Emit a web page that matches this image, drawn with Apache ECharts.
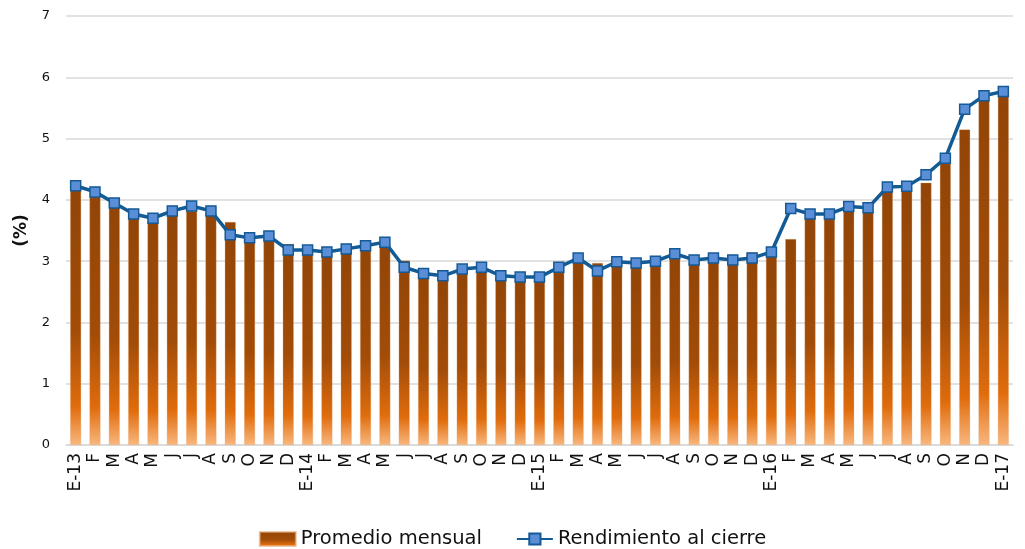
<!DOCTYPE html>
<html>
<head>
<meta charset="utf-8">
<script src="https://cdn.jsdelivr.net/npm/echarts@6/dist/echarts.min.js"></script>
<style>
html,body{margin:0;padding:0;background:#fff;}
#chart{width:1025px;height:549px;}
</style>
</head>
<body>
<div id="chart"></div>
<script>
const categories = ["E-13","F","M","A","M","J","J","A","S","O","N","D",
  "E-14","F","M","A","M","J","J","A","S","O","N","D",
  "E-15","F","M","A","M","J","J","A","S","O","N","D",
  "E-16","F","M","A","M","J","J","A","S","O","N","D",
  "E-17"];
const promedioMensual = [4.17,4.05,3.88,3.72,3.65,3.75,3.82,3.78,3.64,3.33,3.35,3.28,
  3.15,3.12,3.15,3.20,3.26,3.01,2.77,2.72,2.80,2.84,2.72,2.70,
  2.70,2.84,3.00,2.97,2.94,2.93,2.96,3.06,2.98,3.00,2.98,3.14,
  3.10,3.36,3.72,3.72,3.84,3.80,4.15,4.17,4.28,4.60,5.15,5.63,
  5.70];
const rendimientoCierre = [4.23,4.13,3.95,3.77,3.70,3.82,3.90,3.82,3.43,3.38,3.41,3.18,
  3.18,3.15,3.20,3.25,3.31,2.90,2.80,2.76,2.87,2.90,2.76,2.74,
  2.74,2.90,3.05,2.84,2.99,2.97,3.00,3.12,3.02,3.05,3.02,3.05,
  3.15,3.86,3.77,3.77,3.89,3.87,4.21,4.22,4.41,4.68,5.48,5.70,
  5.77];
const yTicks = {min:0, max:7, interval:1};

const chart = echarts.init(document.getElementById('chart'));
const font = '"DejaVu Sans", sans-serif';
chart.setOption({
  animation:false,
  textStyle:{fontFamily:font},
  grid:{left:66, right:12, top:16, bottom:104},
  legend:{
    top:529, left:'center', padding:[0,5], itemGap:34, itemWidth:36, itemHeight:14,
    textStyle:{fontSize:19.5, color:'#111', fontFamily:font},
    data:[{name:'Promedio mensual', icon:'rect'},{name:'Rendimiento al cierre'}]
  },
  xAxis:{
    type:'category', data:categories,
    axisLine:{lineStyle:{color:'#D9D9D9', width:1.5}},
    axisTick:{show:false},
    axisLabel:{rotate:90, interval:0, fontSize:17, color:'#111', margin:8, fontFamily:font}
  },
  yAxis:{
    type:'value', min:yTicks.min, max:yTicks.max, interval:yTicks.interval,
    name:'(%)', nameLocation:'middle', nameGap:36,
    nameTextStyle:{fontSize:17, fontWeight:'bold', color:'#111', fontFamily:font},
    axisLine:{show:false}, axisTick:{show:false},
    axisLabel:{fontSize:13, color:'#111', margin:16, fontFamily:font},
    splitLine:{lineStyle:{color:'#D9D9D9', width:1.5}}
  },
  series:[
    {
      name:'Promedio mensual', type:'bar', data:promedioMensual, barWidth:11,
      itemStyle:{
        color:new echarts.graphic.LinearGradient(0,0,0,1,[
          {offset:0, color:'#924507'},
          {offset:0.55, color:'#A24C08'},
          {offset:0.85, color:'#E06C0C'},
          {offset:1, color:'#F9B77E'}
        ]),
        borderColor:'rgba(230,170,120,0.6)', borderWidth:0.5
      },
      z:2
    },
    {
      name:'Rendimiento al cierre', type:'line', data:rendimientoCierre,
      symbol:'rect', symbolSize:10,
      lineStyle:{color:'#135B95', width:3.5},
      itemStyle:{color:'#5A8FD8', borderColor:'#155A96', borderWidth:1.5},
      z:3
    }
  ]
});
</script>
</body>
</html>
